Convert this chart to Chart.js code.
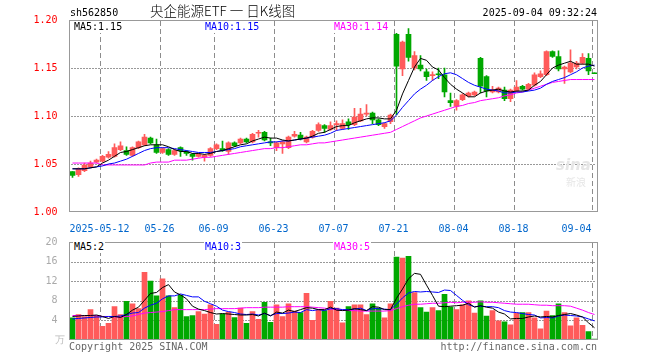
<!DOCTYPE html>
<html>
<head>
<meta charset="utf-8">
<script src="https://cdn.jsdelivr.net/npm/chart.js@4.4.1/dist/chart.umd.min.js"></script>
<style>
  body { margin: 0; background: #fff; }
  #box { position: relative; width: 660px; height: 360px; overflow: hidden; font: 10px "DejaVu Sans Mono", monospace; }
  canvas { position: absolute; left: 0; }
  .txt { position: absolute; white-space: pre; line-height: 12px; }
  .lbl { position: absolute; white-space: pre; line-height: 12px; background: #fff; padding: 0 1px; }
</style>
</head>
<body>
<div id="box">
  <canvas id="kline" width="660" height="232" style="top:0"></canvas>
  <canvas id="vol" width="660" height="128" style="top:232px"></canvas>
  <div class="txt" style="left:70px;top:7px">sh562850</div>
  <div class="txt" style="left:150px;top:2px;line-height:17px;font-size:13.5px;font-weight:300;font-family:'Noto Sans CJK SC'">央企能源ETF 一 日K线图</div>
  <div class="txt" style="right:63px;top:7px">2025-09-04 09:32:24</div>
  <div class="lbl" id="k5" style="left:73px;top:21px;color:#000"></div>
  <div class="lbl" id="k10" style="left:204px;top:21px;color:#0000ff"></div>
  <div class="lbl" id="k30" style="left:333px;top:21px;color:#ff00ff"></div>
  <div class="lbl" id="v5" style="left:73px;top:241px;color:#000"></div>
  <div class="lbl" id="v10" style="left:204px;top:241px;color:#0000ff"></div>
  <div class="lbl" id="v30" style="left:333px;top:241px;color:#ff00ff"></div>
  <div class="txt" style="left:55px;top:334px;color:#bbb">万</div>
  <div class="txt" style="left:69px;top:341px;color:#666">Copyright 2025 SINA.COM</div>
  <div class="txt" style="right:63px;top:341px;color:#666">http://finance.sina.com.cn</div>
  <div class="txt" style="left:556px;top:156px;color:#e6e6e6;font:italic bold 15px 'DejaVu Sans'">sina</div>
  <div class="txt" style="left:566px;top:174px;color:#e6e6e6;font:10px 'Noto Sans CJK SC'">新浪</div>
</div>
<script>
const dates = ['04-30','05-06','05-07','05-08','05-09',
  '05-12','05-13','05-14','05-15','05-16','05-19','05-20','05-21','05-22','05-23',
  '05-26','05-27','05-28','05-29','05-30','06-03','06-04','06-05','06-06',
  '06-09','06-10','06-11','06-12','06-13','06-16','06-17','06-18','06-19','06-20',
  '06-23','06-24','06-25','06-26','06-27','06-30','07-01','07-02','07-03','07-04',
  '07-07','07-08','07-09','07-10','07-11','07-14','07-15','07-16','07-17','07-18',
  '07-21','07-22','07-23','07-24','07-25','07-28','07-29','07-30','07-31','08-01',
  '08-04','08-05','08-06','08-07','08-08','08-11','08-12','08-13','08-14','08-15',
  '08-18','08-19','08-20','08-21','08-22','08-25','08-26','08-27','08-28','08-29',
  '09-01','09-02','09-03','09-04'];
const tickDays = ['05-12','05-26','06-09','06-23','07-07','07-21','08-04','08-18','09-04'];
const priceTicks = [1.05, 1.10, 1.15];
const volTicks = [4, 8, 12, 16];

const opens = [1.042,1.039,1.043,1.047,1.052,1.053,1.057,1.058,1.065,1.064,
  1.059,1.067,1.070,1.077,1.070,1.062,1.065,1.060,1.067,1.063,
  1.060,1.058,1.057,1.059,1.066,1.066,1.063,1.072,1.072,1.076,
  1.073,1.082,1.083,1.073,1.067,1.071,1.067,1.079,1.080,1.073,
  1.078,1.085,1.090,1.086,1.091,1.087,1.094,1.091,1.095,1.102,
  1.103,1.096,1.089,1.094,1.185,1.149,1.185,1.150,1.153,1.146,
  1.142,1.144,1.143,1.116,1.110,1.117,1.121,1.122,1.160,1.141,
  1.125,1.125,1.127,1.118,1.126,1.131,1.128,1.132,1.141,1.143,
  1.167,1.162,1.149,1.146,1.151,1.155,1.160,1.145];
const highs = [1.042,1.046,1.051,1.053,1.055,1.059,1.063,1.071,1.073,1.068,
  1.068,1.074,1.081,1.078,1.076,1.067,1.066,1.065,1.068,1.064,
  1.061,1.061,1.060,1.067,1.071,1.074,1.073,1.073,1.077,1.077,
  1.082,1.085,1.084,1.077,1.073,1.074,1.079,1.084,1.083,1.079,
  1.085,1.093,1.091,1.094,1.095,1.096,1.097,1.108,1.108,1.112,
  1.104,1.097,1.093,1.102,1.186,1.178,1.191,1.167,1.163,1.149,
  1.146,1.150,1.150,1.124,1.117,1.123,1.125,1.126,1.161,1.142,
  1.131,1.130,1.130,1.128,1.137,1.132,1.134,1.145,1.147,1.168,
  1.168,1.168,1.152,1.169,1.157,1.165,1.165,1.145];
const lows = [1.036,1.037,1.042,1.046,1.051,1.052,1.056,1.057,1.064,1.059,
  1.058,1.066,1.069,1.071,1.061,1.061,1.059,1.059,1.058,1.059,
  1.054,1.057,1.053,1.058,1.065,1.063,1.060,1.068,1.071,1.072,
  1.072,1.078,1.074,1.069,1.064,1.061,1.066,1.078,1.075,1.072,
  1.077,1.084,1.083,1.085,1.085,1.086,1.086,1.090,1.094,1.100,
  1.092,1.090,1.087,1.092,1.101,1.142,1.157,1.148,1.147,1.137,
  1.137,1.139,1.120,1.110,1.106,1.116,1.120,1.121,1.124,1.120,
  1.124,1.124,1.116,1.115,1.125,1.127,1.127,1.131,1.140,1.142,
  1.161,1.147,1.134,1.145,1.149,1.154,1.143,1.144];
const closes = [1.038,1.045,1.049,1.051,1.054,1.058,1.060,1.067,1.069,1.060,
  1.067,1.073,1.078,1.072,1.062,1.066,1.060,1.064,1.064,1.061,
  1.058,1.060,1.059,1.066,1.070,1.064,1.072,1.069,1.076,1.073,
  1.081,1.083,1.075,1.072,1.072,1.073,1.078,1.081,1.076,1.078,
  1.084,1.091,1.087,1.090,1.092,1.092,1.091,1.099,1.102,1.103,
  1.096,1.091,1.092,1.101,1.152,1.177,1.161,1.163,1.149,1.141,
  1.143,1.143,1.125,1.114,1.116,1.122,1.124,1.125,1.131,1.126,
  1.127,1.129,1.118,1.127,1.130,1.128,1.133,1.143,1.144,1.167,
  1.162,1.149,1.151,1.155,1.155,1.161,1.147,1.144];

const ma5 = [1.045,1.045,1.045,1.046,1.047,1.051,1.054,1.058,1.062,1.063,
  1.065,1.067,1.069,1.070,1.070,1.070,1.068,1.065,1.063,1.063,
  1.061,1.061,1.060,1.061,1.063,1.064,1.066,1.068,1.070,1.071,
  1.074,1.076,1.078,1.077,1.077,1.075,1.074,1.075,1.076,1.077,
  1.079,1.082,1.083,1.086,1.089,1.090,1.090,1.093,1.095,1.097,
  1.098,1.098,1.097,1.097,1.106,1.123,1.137,1.151,1.160,1.158,
  1.151,1.148,1.140,1.133,1.128,1.124,1.120,1.120,1.124,1.126,
  1.127,1.128,1.126,1.125,1.126,1.126,1.127,1.132,1.136,1.143,
  1.150,1.153,1.155,1.157,1.154,1.154,1.154,1.152];
const ma10 = [1.045,1.045,1.045,1.046,1.047,1.048,1.050,1.051,1.053,1.055,
  1.058,1.061,1.064,1.066,1.067,1.067,1.067,1.066,1.065,1.064,
  1.063,1.062,1.062,1.062,1.063,1.064,1.065,1.066,1.068,1.069,
  1.070,1.071,1.072,1.073,1.073,1.074,1.074,1.075,1.076,1.077,
  1.078,1.079,1.080,1.082,1.085,1.086,1.087,1.088,1.089,1.090,
  1.091,1.092,1.093,1.095,1.101,1.109,1.116,1.123,1.128,1.132,
  1.137,1.141,1.144,1.145,1.143,1.139,1.135,1.132,1.130,1.128,
  1.127,1.126,1.124,1.124,1.125,1.125,1.126,1.127,1.129,1.133,
  1.136,1.138,1.140,1.143,1.146,1.150,1.152,1.153];
const ma30 = [1.051,1.051,1.051,1.051,1.051,1.049,1.049,1.049,1.049,1.049,
  1.049,1.049,1.049,1.051,1.052,1.052,1.052,1.054,1.054,1.054,
  1.055,1.056,1.057,1.057,1.058,1.059,1.060,1.061,1.062,1.063,
  1.064,1.065,1.066,1.066,1.067,1.067,1.068,1.069,1.070,1.070,
  1.071,1.072,1.072,1.073,1.074,1.075,1.076,1.077,1.078,1.079,
  1.080,1.081,1.082,1.083,1.086,1.089,1.092,1.095,1.098,1.100,
  1.102,1.104,1.106,1.108,1.110,1.111,1.113,1.114,1.116,1.117,
  1.118,1.119,1.121,1.122,1.124,1.125,1.127,1.129,1.131,1.133,
  1.135,1.136,1.137,1.138,1.138,1.138,1.138,1.138];

const vols = [4.5,5.2,4.8,6.2,5.0,2.8,3.4,6.8,5.2,7.9,
  7.4,6.4,13.8,12.0,9.0,12.5,9.0,6.6,9.1,4.8,
  5.0,5.8,5.3,7.2,3.2,5.3,5.7,4.6,6.5,3.4,
  5.8,4.2,7.7,3.6,7.2,4.8,7.4,5.9,5.6,9.5,
  4.0,6.1,6.0,7.9,6.5,3.5,6.8,7.2,7.2,5.2,
  7.4,6.5,4.5,7.4,16.9,16.7,17.1,9.7,6.6,5.7,
  6.6,6.0,9.3,6.7,6.2,7.2,8.0,5.5,8.0,4.9,
  6.0,3.9,3.7,3.1,5.5,5.6,5.6,4.5,2.3,5.9,
  5.0,7.4,5.6,2.9,4.5,3.0,1.7,0.2];
const volMa5 = [4.8,4.9,5.0,5.0,5.1,4.8,4.4,4.8,4.6,5.2,
  6.1,6.7,8.1,9.5,9.7,10.7,11.3,9.8,9.2,8.4,
  6.9,6.3,6.0,5.6,5.3,5.4,5.3,5.2,5.1,5.1,
  5.2,4.9,5.5,4.9,5.7,5.5,6.1,5.8,6.2,6.6,
  6.5,6.2,6.2,6.7,6.1,6.0,6.1,6.4,6.2,6.0,
  6.8,6.7,6.2,6.2,8.5,10.4,12.5,13.6,13.4,11.2,
  9.1,6.9,6.8,6.9,7.0,7.1,7.5,6.7,7.0,6.7,
  6.5,5.7,5.3,4.3,4.4,4.4,4.7,4.9,4.7,4.8,
  4.7,5.0,5.2,5.4,5.1,4.7,3.5,2.5];
const volMa10 = [4.3,4.4,4.5,4.6,4.7,4.7,4.8,4.8,4.9,5.2,
  5.5,5.6,6.5,7.1,7.5,8.4,9.0,9.0,9.4,9.1,
  8.8,8.8,7.9,7.4,6.9,6.1,5.8,5.6,5.3,5.2,
  5.3,5.1,5.4,5.0,5.4,5.4,5.5,5.7,5.6,6.2,
  6.0,6.2,6.0,6.4,6.4,6.2,6.2,6.3,6.5,6.0,
  6.4,6.4,6.3,6.2,7.3,8.6,9.6,9.9,9.8,9.9,
  9.8,9.7,10.2,10.1,9.1,8.1,7.2,6.8,6.9,6.8,
  6.8,6.6,6.0,5.7,5.6,5.4,5.2,5.1,4.5,4.6,
  4.5,4.9,5.1,5.0,4.9,4.7,4.3,3.9];
const volMa30 = [5.0,5.0,5.0,5.0,5.0,4.8,4.8,4.7,4.7,4.8,
  4.9,5.2,5.5,5.6,5.7,5.8,6.0,6.2,6.2,6.2,
  6.2,6.2,6.2,6.3,6.4,6.4,6.4,6.4,6.5,6.6,
  6.6,6.6,6.7,6.7,6.7,6.7,6.8,6.8,6.8,6.8,
  6.7,6.6,6.5,6.3,6.2,6.1,6.0,6.0,5.9,5.9,
  5.9,5.9,5.9,6.0,6.4,6.8,7.1,7.3,7.3,7.4,
  7.5,7.5,7.6,7.7,7.6,7.7,7.7,7.7,7.8,7.7,
  7.7,7.6,7.5,7.4,7.3,7.3,7.3,7.2,7.1,7.1,
  7.0,7.0,7.0,6.9,6.5,6.1,5.6,5.2];

const UP = '#ff5a5a', DOWN = '#00a800';
Chart.defaults.font.family = '"DejaVu Sans Mono", monospace';
Chart.defaults.font.size = 10;

const candleColor = c => closes[c.dataIndex] >= opens[c.dataIndex] ? UP : DOWN;
const tickText = dates.map(d => {
  const k = tickDays.indexOf(d);
  if (k < 0) return '';
  if (k === 0) return '2025-' + d;
  if (k === tickDays.length - 1) return d + '     ';
  return d;
});

// dotted value lines and dashed date lines as short rects, then the grey frame
function gridFrame(values) {
  return {
    id: 'gridFrame',
    beforeDatasetsDraw(chart) {
      const g = chart.ctx, a = chart.chartArea, x = chart.scales.x, y = chart.scales.y;
      g.save();
      g.fillStyle = '#999';
      for (const v of values) {
        const py = Math.round(y.getPixelForValue(v));
        for (let px = Math.round(a.left) + 1; px < a.right - 2; px += 3) g.fillRect(px, py, 2, 1);
      }
      g.fillStyle = '#8c8c8c';
      const half = (x.getPixelForValue(1) - x.getPixelForValue(0)) / 2;
      tickText.forEach((t, i) => {
        if (!t) return;
        const px = Math.round(x.getPixelForValue(i) - half);
        for (let py = a.top + 1; py < a.bottom - 1; py += 8) g.fillRect(px, py, 1, Math.min(5, a.bottom - 1 - py));
      });
      g.restore();
    },
    afterDraw(chart) {
      const a = chart.chartArea, g = chart.ctx;
      g.save();
      g.strokeStyle = '#999';
      g.lineWidth = 1;
      g.strokeRect(a.left, a.top + 0.5, a.right - a.left, a.bottom - a.top - 1);
      g.restore();
    }
  };
}

function xAxis(labels) {
  return {
    offset: true,
    grid: { display: false },
    border: { display: false },
    ticks: { display: labels, autoSkip: false, maxRotation: 0, minRotation: 0, labelOffset: -3, padding: 3,
             color: '#0066cc', callback: (v, i) => tickText[i] },
    afterFit: s => { s.height = labels ? 20 : 0; }
  };
}

function yAxis(min, max, step, color, fmt) {
  return {
    min: min, max: max,
    ticks: { stepSize: step, color: color, padding: 4, callback: fmt },
    grid: { display: false },
    border: { display: false },
    afterFit: s => { s.width = 69.5; }
  };
}

function maLine(data, color) {
  return { type: 'line', data: data, borderColor: color, borderWidth: 1, pointRadius: 0, tension: 0, fill: false };
}

new Chart(document.getElementById('kline'), {
  type: 'bar',
  data: {
    labels: dates,
    datasets: [
      maLine(ma5, '#000000'),
      maLine(ma10, '#0000ff'),
      maLine(ma30, '#ff00ff'),
      { data: opens.map((o, i) => [o, closes[i]]), backgroundColor: candleColor,
        barThickness: 5, minBarLength: 1, grouped: false },
      { data: lows.map((l, i) => [l, highs[i]]), backgroundColor: candleColor,
        barThickness: 1, grouped: false }
    ]
  },
  options: {
    responsive: false,
    animation: false,
    events: [],
    layout: { padding: { left: 0, right: 62.5, top: 20, bottom: 0 } },
    plugins: { legend: { display: false }, tooltip: { enabled: false } },
    scales: {
      x: xAxis(true),
      y: yAxis(1.0, 1.2, 0.05, '#ff0000', v => v.toFixed(2))
    }
  },
  plugins: [gridFrame(priceTicks)]
});

new Chart(document.getElementById('vol'), {
  type: 'bar',
  data: {
    labels: dates,
    datasets: [
      maLine(volMa5, '#000000'),
      maLine(volMa10, '#0000ff'),
      maLine(volMa30, '#ff00ff'),
      { data: vols, backgroundColor: candleColor, barThickness: 5, grouped: false }
    ]
  },
  options: {
    responsive: false,
    animation: false,
    events: [],
    layout: { padding: { left: 0, right: 62.5, top: 8, bottom: 20 } },
    plugins: { legend: { display: false }, tooltip: { enabled: false } },
    scales: {
      x: xAxis(false),
      y: yAxis(0, 20, 4, '#aaa', v => v === 0 ? '' : v)
    }
  },
  plugins: [gridFrame(volTicks)]
});

const last = ma5.length - 1;
document.getElementById('k5').textContent = 'MA5:' + ma5[last].toFixed(2);
document.getElementById('k10').textContent = 'MA10:' + ma10[last].toFixed(2);
document.getElementById('k30').textContent = 'MA30:' + ma30[last].toFixed(2);
document.getElementById('v5').textContent = 'MA5:' + Math.floor(volMa5[last]);
document.getElementById('v10').textContent = 'MA10:' + Math.floor(volMa10[last]);
document.getElementById('v30').textContent = 'MA30:' + Math.floor(volMa30[last]);
</script>
</body>
</html>
